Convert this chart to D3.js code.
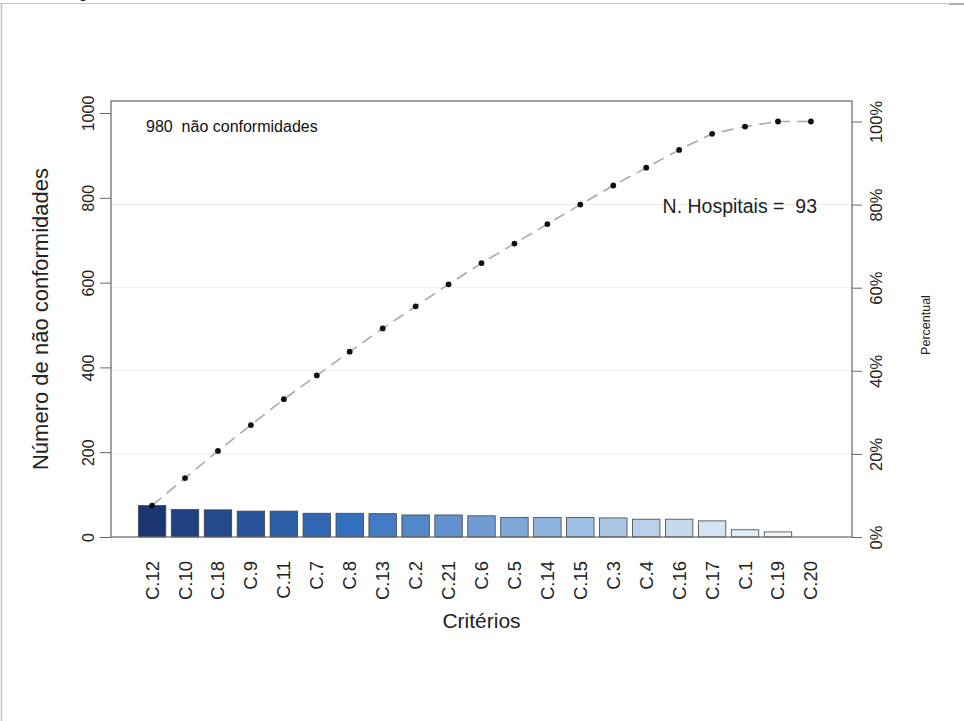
<!DOCTYPE html>
<html>
<head>
<meta charset="utf-8">
<script src="https://cdn.jsdelivr.net/npm/d3@7"></script>
<style>
body { margin: 0; background: #fff; }
svg { display: block; font-family: "Liberation Sans", Arial, sans-serif; }
</style>
</head>
<body>
<div class="chart"></div>
<script>
var width = 964, height = 721;

// data
var criterios = ["C.12","C.10","C.18","C.9","C.11","C.7","C.8","C.13","C.2","C.21",
                 "C.6","C.5","C.14","C.15","C.3","C.4","C.16","C.17","C.1","C.19","C.20"];
var naoConf = [74,65,64,61,61,56,56,55,52,52,50,46,46,46,45,42,42,38,17,12,0];
var yTicks = [0,200,400,600,800,1000];
var pctTicks = [0,20,40,60,80,100];
var nHospitais = 93;

var total = d3.sum(naoConf);
var cum = [];
naoConf.reduce(function(a, v, i) { cum[i] = a + v; return cum[i]; }, 0);

var pLeft = 111, pRight = 852, pTop = 101, pBottom = 537;

var svg = d3.select(".chart").append("svg")
  .attr("width", width)
  .attr("height", height);

// outer frame of the picture
svg.append("line").attr("x1", 0).attr("x2", width).attr("y1", 3.5).attr("y2", 3.5)
  .attr("stroke", "#c4c4c4").attr("stroke-width", 1);
svg.append("line").attr("x1", 1.5).attr("x2", 1.5).attr("y1", 3).attr("y2", height)
  .attr("stroke", "#c4c4c4").attr("stroke-width", 1.5);
svg.append("line").attr("x1", 949).attr("x2", width).attr("y1", 4).attr("y2", 4)
  .attr("stroke", "#b0b0b0").attr("stroke-width", 2);
svg.append("text").attr("x", 79).attr("y", -2).attr("font-size", 15).attr("fill", "#111").text("g");

var x = d3.scaleBand()
  .domain(criterios)
  .range([pLeft, pRight])
  .paddingInner(1/6)
  .paddingOuter(0.83);

var y = d3.scaleLinear().domain([0, 1000]).range([pBottom, 113]);
var yp = d3.scaleLinear().domain([0, 100]).range([y(0), y(total)]);

var color = d3.scaleLinear()
  .domain([0, 6, 13, 20])
  .range(["#1c3674", "#3470c0", "#9cbfe2", "#ffffff"]);

// grid
svg.append("g").selectAll("line")
  .data(pctTicks.slice(1, 5))
  .enter().append("line")
  .attr("x1", pLeft).attr("x2", pRight)
  .attr("y1", function(d) { return yp(d); })
  .attr("y2", function(d) { return yp(d); })
  .attr("stroke", "#ececec");

// bars
svg.append("g").selectAll("rect")
  .data(naoConf)
  .enter().append("rect")
  .attr("x", function(d, i) { return x(criterios[i]); })
  .attr("width", x.bandwidth())
  .attr("y", function(d) { return y(d); })
  .attr("height", function(d) { return y(0) - y(d); })
  .attr("fill", function(d, i) { return color(i); })
  .attr("stroke", "#444")
  .attr("stroke-width", 0.8);

// box
svg.append("rect")
  .attr("x", pLeft).attr("y", pTop)
  .attr("width", pRight - pLeft).attr("height", pBottom - pTop)
  .attr("fill", "none").attr("stroke", "#666").attr("stroke-width", 1.2);

// left axis
var gl = svg.append("g").attr("transform", "translate(" + pLeft + ",0)")
  .call(d3.axisLeft(y).tickValues(yTicks).tickSize(11).tickFormat(d3.format("d")));
gl.select(".domain").remove();
gl.selectAll("line").attr("stroke", "#666");
gl.selectAll("text")
  .attr("x", 0).attr("dy", 0)
  .attr("transform", "translate(-17,0) rotate(-90)")
  .attr("text-anchor", "middle")
  .attr("font-size", 16)
  .attr("font-family", "Liberation Sans, Arial, sans-serif")
  .attr("fill", "#222");

// right axis
var gr = svg.append("g").attr("transform", "translate(" + pRight + ",0)")
  .call(d3.axisRight(yp).tickValues(pctTicks).tickSize(10)
    .tickFormat(function(d) { return d + "%"; }));
gr.select(".domain").remove();
gr.selectAll("line").attr("stroke", "#666");
gr.selectAll("text")
  .attr("x", 0).attr("dy", 0)
  .attr("transform", "translate(30,0) rotate(-90)")
  .attr("text-anchor", "middle")
  .attr("font-size", 16.5)
  .attr("font-family", "Liberation Sans, Arial, sans-serif")
  .attr("fill", "#222");

// x labels
svg.append("g").selectAll("text")
  .data(criterios)
  .enter().append("text")
  .attr("transform", function(d) {
    return "translate(" + (x(d) + x.bandwidth() / 2 + 6.5) + ",561) rotate(-90)";
  })
  .attr("text-anchor", "end")
  .attr("font-size", 18.5)
  .attr("fill", "#222")
  .text(function(d) { return d; });

// cumulative line
var line = d3.line()
  .x(function(d, i) { return x(criterios[i]) + x.bandwidth() / 2; })
  .y(function(d) { return y(d); });

svg.append("path")
  .datum(cum)
  .attr("d", line)
  .attr("fill", "none")
  .attr("stroke", "#aaaaaa")
  .attr("stroke-width", 1.6)
  .attr("stroke-dasharray", "12,7");

svg.append("g").selectAll("circle")
  .data(cum)
  .enter().append("circle")
  .attr("cx", function(d, i) { return x(criterios[i]) + x.bandwidth() / 2; })
  .attr("cy", function(d) { return y(d); })
  .attr("r", 2.9)
  .attr("fill", "#111");

// titles and notes
svg.append("text")
  .attr("transform", "translate(48," + ((pTop + pBottom) / 2) + ") rotate(-90)")
  .attr("text-anchor", "middle")
  .attr("font-size", 22)
  .attr("fill", "#222")
  .text("Número de não conformidades");

svg.append("text")
  .attr("x", (pLeft + pRight) / 2)
  .attr("y", 628)
  .attr("text-anchor", "middle")
  .attr("font-size", 21)
  .attr("fill", "#222")
  .text("Critérios");

svg.append("text")
  .attr("transform", "translate(930," + ((pTop + pBottom) / 2 + 6) + ") rotate(-90)")
  .attr("text-anchor", "middle")
  .attr("font-size", 12.5)
  .attr("fill", "#222")
  .text("Percentual");

svg.append("text")
  .attr("x", 146).attr("y", 132)
  .attr("font-size", 16)
  .attr("fill", "#111")
  .style("white-space", "pre")
  .text(total + "  não conformidades");

svg.append("text")
  .attr("x", 817).attr("y", 213)
  .attr("text-anchor", "end")
  .attr("font-size", 19.5)
  .attr("fill", "#222")
  .style("white-space", "pre")
  .text("N. Hospitais =  " + nHospitais);
</script>
</body>
</html>
